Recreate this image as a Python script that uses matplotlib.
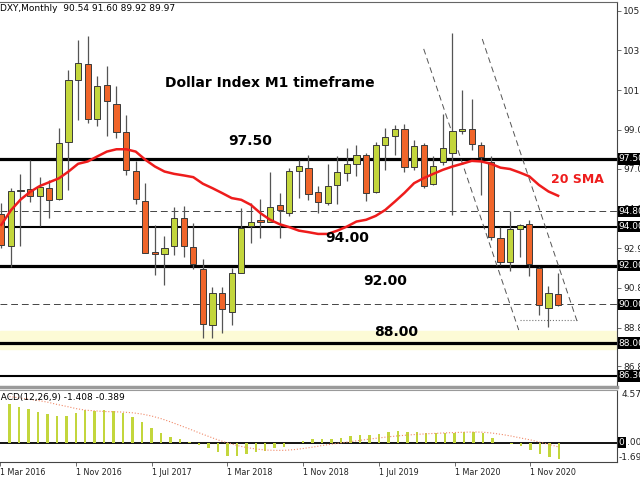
import matplotlib.pyplot as plt
import numpy as np

# DXY monthly candles, Apr 2016 .. Feb 2021
opens = [94.65, 93.01, 95.82, 95.94, 95.61, 95.99, 95.42, 98.40, 101.59, 102.41,
         99.56, 101.33, 100.35, 98.89, 96.90, 95.35, 92.70, 92.60, 93.00, 94.43,
         92.98, 91.81, 88.93, 90.60, 89.62, 91.63, 94.05, 94.32, 94.27, 95.13,
         94.70, 96.90, 97.03, 95.77, 95.25, 96.16, 96.77, 97.25, 97.71, 95.77,
         98.23, 98.66, 99.04, 97.11, 98.23, 96.21, 97.32, 97.83, 98.95, 99.04,
         98.20, 97.32, 93.41, 92.20, 93.88, 94.13, 91.86, 89.80, 90.54]
highs = [95.25, 95.99, 96.73, 97.46, 96.56, 96.42, 99.09, 102.10, 103.65, 103.86,
         101.76, 102.28, 101.28, 99.78, 97.40, 96.25, 94.10, 93.50, 95.04, 95.08,
         94.20, 92.33, 90.91, 90.91, 91.86, 94.96, 95.25, 95.43, 96.85, 95.73,
         97.03, 97.46, 97.71, 96.08, 97.25, 97.66, 98.06, 98.23, 97.80, 98.35,
         99.09, 99.26, 99.31, 98.49, 98.32, 97.63, 99.83, 104.00, 101.07, 100.59,
         98.35, 97.63, 93.98, 94.79, 94.15, 94.36, 91.91, 90.96, 91.60]
lows = [92.90, 91.91, 93.01, 95.30, 94.05, 94.44, 95.39, 95.90, 99.52, 99.38,
        99.18, 98.66, 98.58, 96.68, 95.20, 92.63, 91.52, 91.00, 92.55, 92.46,
        91.83, 88.26, 88.26, 88.50, 88.93, 91.60, 93.18, 93.41, 94.27, 93.41,
        94.53, 95.48, 95.39, 94.70, 95.13, 95.18, 96.34, 96.60, 95.35, 95.73,
        96.94, 97.71, 96.85, 96.94, 95.99, 96.16, 97.20, 94.62, 98.80, 97.97,
        95.65, 93.32, 92.03, 91.74, 92.43, 91.46, 89.45, 88.85, 89.92]
closes = [93.07, 95.82, 95.90, 95.60, 96.05, 95.39, 98.32, 101.59, 102.45, 99.56,
          101.28, 100.47, 98.87, 96.94, 95.42, 92.67, 92.60, 92.91, 94.43, 93.00,
          92.08, 88.99, 90.60, 89.74, 91.60, 93.93, 94.22, 94.27, 95.00, 94.84,
          96.90, 97.16, 95.70, 95.30, 96.11, 96.85, 97.25, 97.71, 95.73, 98.23,
          98.63, 99.04, 97.11, 98.18, 96.11, 97.16, 98.06, 98.92, 99.04, 98.27,
          97.60, 93.46, 92.20, 93.88, 94.08, 92.06, 89.97, 90.57, 89.97]
sma20 = [94.10, 94.85, 95.40, 95.80, 96.10, 96.30, 96.50, 96.85, 97.25, 97.37,
         97.63, 97.88, 98.00, 98.00, 97.88, 97.46, 97.11, 96.85, 96.73, 96.65,
         96.56, 96.22, 95.99, 95.74, 95.48, 95.39, 95.13, 94.70, 94.36, 94.13,
         93.98, 93.80, 93.72, 93.63, 93.63, 93.80, 94.01, 94.27, 94.36, 94.56,
         94.87, 95.30, 95.75, 96.25, 96.51, 96.73, 96.94, 97.11, 97.25, 97.40,
         97.37, 97.25, 97.05, 96.98, 96.80, 96.60, 96.16, 95.82, 95.60]
macd_hist = [3.32, 3.10, 2.93, 2.70, 2.48, 2.31, 2.31, 2.59, 2.82, 2.76,
             2.82, 2.76, 2.59, 2.20, 1.80, 1.24, 0.79, 0.45, 0.28, 0.02,
             -0.23, -0.51, -0.85, -1.13, -1.18, -0.99, -0.85, -0.70, -0.51, -0.39,
             -0.03, 0.17, 0.28, 0.28, 0.34, 0.42, 0.56, 0.68, 0.70, 0.76,
             0.90, 1.01, 0.93, 0.96, 0.85, 0.85, 0.85, 0.85, 0.93, 0.90,
             0.79, 0.39, -0.03, -0.17, -0.34, -0.62, -1.01, -1.27, -1.408]
macd_signal = [4.00, 3.89, 3.77, 3.66, 3.52, 3.32, 3.15, 2.96, 2.82, 2.76,
               2.70, 2.68, 2.65, 2.59, 2.48, 2.31, 2.08, 1.80, 1.49, 1.18,
               0.85, 0.54, 0.23, -0.02, -0.25, -0.43, -0.56, -0.65, -0.68, -0.68,
               -0.62, -0.52, -0.40, -0.26, -0.14, -0.03, 0.08, 0.19, 0.30, 0.40,
               0.50, 0.58, 0.65, 0.71, 0.76, 0.80, 0.84, 0.87, 0.90, 0.92,
               0.90, 0.82, 0.70, 0.56, 0.39, 0.23, 0.03, -0.17, -0.389]

tick_pos = [0, 8, 16, 24, 32, 40, 48, 56]
tick_labels = ["1 Mar 2016", "1 Nov 2016", "1 Jul 2017", "1 Mar 2018",
               "1 Nov 2018", "1 Jul 2019", "1 Mar 2020", "1 Nov 2020"]

price_ticks = [105.15, 103.10, 101.05, 99.00, 97.00, 94.95, 92.90, 90.85, 88.80, 86.80]
solid_levels = [97.50, 94.00, 92.00, 88.00, 86.30]
solid_widths = [2.3, 1.5, 2.3, 2.3, 1.5]
dashed_levels = [94.80, 90.00]
boxed_levels = [97.50, 94.80, 94.00, 92.00, 90.00, 88.00, 86.30]

channel_x = [[45.0, 54.9], [51.1, 61.0]]
channel_y = [[103.18, 88.67], [103.69, 89.09]]
support_x = [55.0, 61.0]
support_y = 89.19

notes = [("Dollar Index M1 timeframe", 29.0, 101.42, "black"),
         ("97.50", 26.9, 98.43, "black"),
         ("94.00", 37.0, 93.42, "black"),
         ("92.00", 41.0, 91.22, "black"),
         ("88.00", 42.1, 88.57, "black"),
         ("20 SMA", 61.0, 96.42, "#ee1c1c")]

bull = "#c3d63c"
bear = "#f0652a"

fig = plt.figure(figsize=(6.4, 4.8), dpi=100)
ax = fig.add_axes([0, 93 / 480, 617 / 640, 385 / 480])
ax2 = fig.add_axes([0, 18 / 480, 617 / 640, 72 / 480])

x = np.arange(1, len(closes) + 1)
o = np.array(opens)
c = np.array(closes)
xmin, xmax = 0.865, 0.865 + 617 / 9.6

# ---- price panel ----
ax.axhspan(87.7, 88.6, color="#fdfbd6", zorder=0)
for lv, lw in zip(solid_levels, solid_widths):
    ax.axhline(lv, color="black", lw=lw, zorder=1)
for lv in dashed_levels:
    ax.axhline(lv, color="#444444", lw=0.7, dashes=(7, 4), zorder=1)
for cx, cy in zip(channel_x, channel_y):
    ax.plot(cx, cy, color="#555555", lw=0.7, dashes=(6, 4), zorder=1)
ax.plot(support_x, [support_y, support_y], color="#777777", lw=0.8, ls=":", zorder=1)

ax.vlines(x, lows, highs, color="#555555", lw=0.9, zorder=2)
body_h = np.maximum(np.abs(c - o), 0.07)
cols = [bull if cc >= oo else bear for oo, cc in zip(opens, closes)]
ax.bar(x, body_h, bottom=np.minimum(o, c), width=0.66, color=cols,
       edgecolor="#3a3a3a", linewidth=0.7, zorder=3)
ax.plot(x, sma20, color="#ee1c1c", lw=1.8, zorder=4)

for txt, tx, ty, col in notes:
    ax.text(tx, ty, txt, color=col, fontsize=10 if txt != "20 SMA" else 9,
            fontweight="bold", ha="center", va="center", zorder=5)

ax.set_xlim(xmin, xmax)
ax.set_ylim(85.73, 105.60)
ax.set_xticks([])
ax.yaxis.tick_right()
ax.set_yticks(price_ticks)
ax.set_yticklabels([f"{v:.2f}" for v in price_ticks])
ax.tick_params(axis="y", direction="out", length=3, width=0.6, color="#555555",
               labelsize=6.5, labelcolor="#222222", pad=1.5)
ax.spines["left"].set_visible(False)
ax.spines["top"].set_color("#666666")
ax.spines["right"].set_color("#444444")
ax.spines["bottom"].set_color("#9a9a9a")
ax.spines["bottom"].set_linewidth(2.5)

ytr = ax.get_yaxis_transform()
for lv in boxed_levels:
    ax.text(1.003, lv, f"{lv:.2f}", transform=ytr, color="white", fontsize=6.5,
            va="center", ha="left", zorder=6, clip_on=False,
            bbox=dict(boxstyle="square,pad=0.12", fc="black", ec="none"))

fig.text(0.0, 0.983, "DXY,Monthly  90.54 91.60 89.92 89.97", fontsize=6.5,
         color="black", ha="left", va="center")

# ---- MACD panel ----
ax2.axhline(0, color="black", lw=1.3, zorder=1)
ax2.bar(x, macd_hist, width=0.26, color=bull, zorder=2)
ax2.plot(x, macd_signal, color="#f08a6a", lw=0.8, ls=":", zorder=3)
ax2.set_xlim(xmin, xmax)
ax2.set_ylim(-1.693, 4.573)
ax2.set_yticks([])
ax2.set_xticks(tick_pos)
ax2.set_xticklabels(tick_labels, ha="left")
ax2.tick_params(axis="x", direction="out", length=3, width=0.6, color="#555555",
                labelsize=5.8, labelcolor="#222222", pad=1.5)
ax2.spines["left"].set_visible(False)
ax2.spines["top"].set_color("#9a9a9a")
ax2.spines["right"].set_color("#444444")
ax2.spines["bottom"].set_color("#444444")

ytr2 = ax2.get_yaxis_transform()
ax2.text(1.008, 4.573, "4.573", transform=ytr2, fontsize=6.5, color="#222222",
         va="top", ha="left", clip_on=False)
ax2.text(1.003, -1.693, "-1.693", transform=ytr2, fontsize=6.5, color="#222222",
         va="bottom", ha="left", clip_on=False)
ax2.text(1.003, 0, "0", transform=ytr2, fontsize=6.5, color="white", va="center",
         ha="left", clip_on=False, zorder=6,
         bbox=dict(boxstyle="square,pad=0.1", fc="black", ec="none"))
ax2.text(1.017, 0, ".00", transform=ytr2, fontsize=6.5, color="#222222",
         va="center", ha="left", clip_on=False)
ax2.text(-0.012, 0.9, "MACD(12,26,9) -1.408 -0.389", transform=ax2.transAxes,
         fontsize=6.5, color="black", ha="left", va="center")

fig.savefig("out.png", dpi=100)
